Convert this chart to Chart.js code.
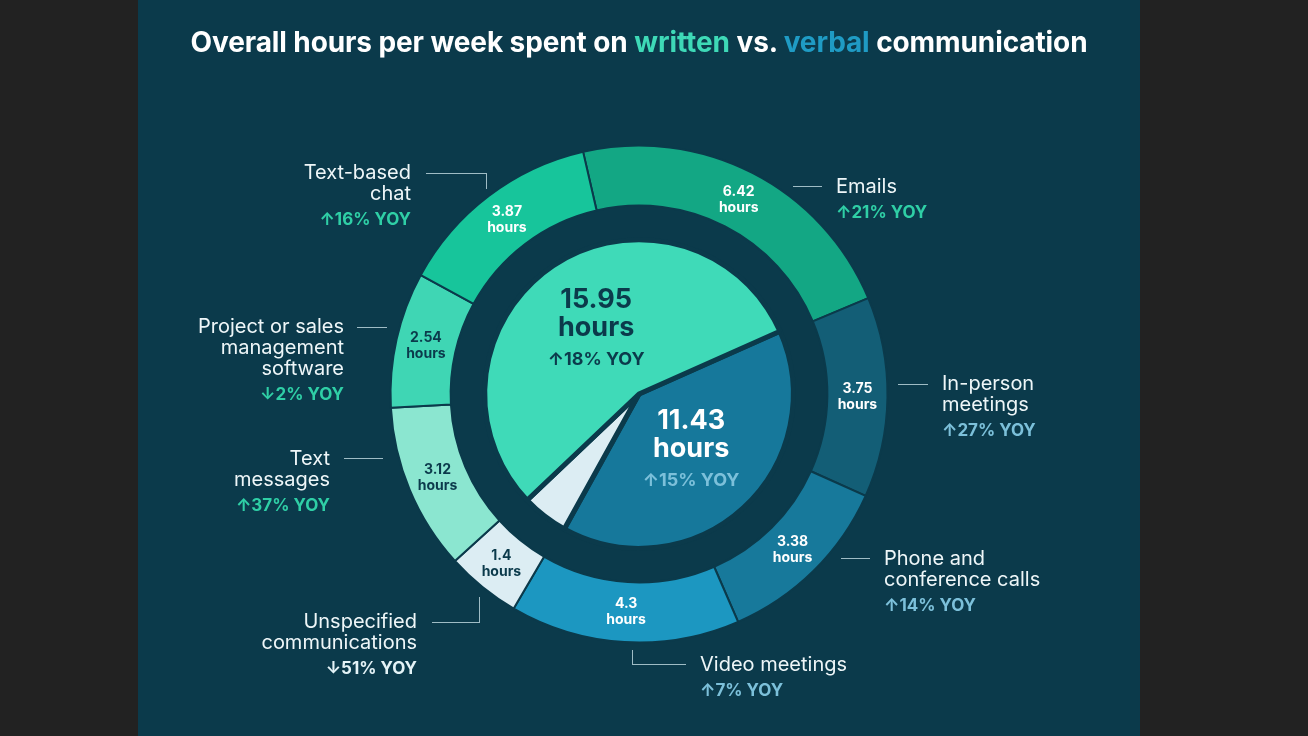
<!DOCTYPE html>
<html>
<head>
<meta charset="utf-8">
<script src="https://cdn.jsdelivr.net/npm/chart.js@4.4.1/dist/chart.umd.min.js"></script>
<style>
    html, body { margin: 0; padding: 0; }
    body {
        width: 1308px;
        height: 736px;
        background: #222222;
        position: relative;
        overflow: hidden;
        font-family: 'Inter', 'Noto Sans', sans-serif;
    }
    #panel {
        position: absolute;
        left: 138px;
        top: 0;
        width: 1002px;
        height: 736px;
        background: #0b3a4b;
    }
    #chart {
        position: absolute;
        left: 0;
        top: 0;
    }
    #title {
        position: absolute;
        left: 138px;
        top: 25px;
        width: 1002px;
        text-align: center;
        font: 700 28px/34px 'Inter', sans-serif;
        color: #ffffff;
        letter-spacing: -0.1px;
    }
    #title .written { color: #3ed9b7; }
    #title .verbal { color: #1f9bc4; }
    .callout {
        position: absolute;
        font: 400 20px/21px 'Inter', sans-serif;
        color: #eef6f8;
        white-space: nowrap;
    }
    .callout.right { text-align: right; }
    .callout .yoy {
        font: 700 17px/21px 'Inter', sans-serif;
        margin-top: 5px;
    }
    .leader {
        position: absolute;
        border: 0 solid #9fbcc5;
        box-sizing: border-box;
    }
</style>
</head>
<body>
<div id="panel"></div>
<canvas id="chart" width="1308" height="736"></canvas>
<div id="title">Overall hours per week spent on <span class="written">written</span> vs. <span class="verbal">verbal</span> communication</div>
<div id="callouts"></div>

<script>
// Outer ring: individual channels, clockwise from the top
const ringLabels = [
    'Emails',
    'In-person\nmeetings',
    'Phone and\nconference calls',
    'Video meetings',
    'Unspecified\ncommunications',
    'Text\nmessages',
    'Project or sales\nmanagement\nsoftware',
    'Text-based\nchat'
];
const ringHours = [6.42, 3.75, 3.38, 4.3, 1.4, 3.12, 2.54, 3.87];
const ringYoy = ['↑21% YOY', '↑27% YOY', '↑14% YOY', '↑7% YOY', '↓51% YOY', '↑37% YOY', '↓2% YOY', '↑16% YOY'];

// Inner pie: totals per communication type
const pieLabels = ['Verbal', 'Unspecified', 'Written'];
const pieHours = [11.43, 1.4, 15.95];
const pieYoy = ['↑15% YOY', '', '↑18% YOY'];

// Colours
const bg = '#0b3a4b';
const ringColors = ['#13a784', '#135e76', '#17799b', '#1c97c1', '#dcedf3', '#8be6d0', '#3fd6b4', '#17c59b'];
const ringTextColors = ['#ffffff', '#ffffff', '#ffffff', '#ffffff', '#0b3a4b', '#0b3a4b', '#0b3a4b', '#ffffff'];
const pieColors = ['#16789b', '#dcedf3', '#3fdab8'];
const yoyColors = ['#2fcfa6', '#7cc0da', '#7cc0da', '#7cc0da', '#e4f3f7', '#2fcfa6', '#2fcfa6', '#2fcfa6'];

// Callout placement (right edge for left-side labels, left edge for right-side ones)
const calloutPos = [
    { left: 836, top: 175.5 },
    { left: 942, top: 372.5 },
    { left: 884, top: 547.5 },
    { left: 700, top: 653.5 },
    { right: 417, top: 610.5 },
    { right: 330, top: 447.5 },
    { right: 344, top: 315.5 },
    { right: 411, top: 161.5 }
];

// Leader lines: [left, top, width, height, borders]
const leaders = [
    [793, 185.5, 29, 1, 'top'],
    [898, 383.5, 30, 1, 'top'],
    [841, 557.5, 29, 1, 'top'],
    [632, 650, 54, 14.5, 'left bottom'],
    [432, 597, 47.5, 25.5, 'right bottom'],
    [344, 457.5, 39, 1, 'top'],
    [357, 326.5, 30, 1, 'top'],
    [426, 172.5, 60.5, 16, 'top right']
];

function buildCallouts() {
    const box = document.getElementById('callouts');
    ringLabels.forEach((label, i) => {
        const div = document.createElement('div');
        const pos = calloutPos[i];
        div.className = 'callout' + (pos.right !== undefined ? ' right' : '');
        div.style.top = pos.top + 'px';
        if (pos.right !== undefined) {
            div.style.right = (1308 - pos.right) + 'px';
        } else {
            div.style.left = pos.left + 'px';
        }
        div.innerHTML = label.split('\n').map(l => `<div>${l}</div>`).join('') +
            `<div class="yoy" style="color:${yoyColors[i]}">${ringYoy[i]}</div>`;
        box.appendChild(div);
    });
    leaders.forEach(([l, t, w, h, sides]) => {
        const div = document.createElement('div');
        div.className = 'leader';
        div.style.left = l + 'px';
        div.style.top = t + 'px';
        div.style.width = w + 'px';
        div.style.height = h + 'px';
        sides.split(' ').forEach(s => {
            div.style['border' + s[0].toUpperCase() + s.slice(1) + 'Width'] = '1px';
        });
        box.appendChild(div);
    });
}

// Writes the hour values inside each arc
const arcLabels = {
    id: 'arcLabels',
    afterDatasetsDraw(chart) {
        const ctx = chart.ctx;
        ctx.save();
        ctx.textAlign = 'center';
        ctx.textBaseline = 'middle';

        chart.getDatasetMeta(0).data.forEach((arc, i) => {
            const { x, y } = arc.tooltipPosition();
            ctx.fillStyle = ringTextColors[i];
            ctx.font = "700 14px 'Inter', sans-serif";
            ctx.fillText(String(ringHours[i]), x, y - 8);
            ctx.fillText('hours', x, y + 8);
        });

        chart.getDatasetMeta(2).data.forEach((arc, i) => {
            if (!pieYoy[i]) return;
            const { x, y } = arc.tooltipPosition();
            const dark = i === 2;
            ctx.fillStyle = dark ? '#0b3a4b' : '#ffffff';
            ctx.font = "700 27px 'Inter', sans-serif";
            ctx.fillText(pieHours[i].toFixed(2), x, y - 30);
            ctx.fillText('hours', x, y - 2);
            ctx.font = "700 18px 'Inter', sans-serif";
            ctx.fillStyle = dark ? '#0b3a4b' : '#7cc0da';
            ctx.fillText(pieYoy[i], x, y + 30);
        });
        ctx.restore();
    }
};

const ctx = document.getElementById('chart').getContext('2d');
new Chart(ctx, {
    type: 'doughnut',
    data: {
        labels: ringLabels,
        datasets: [
            {
                label: 'Channels',
                data: ringHours,
                backgroundColor: ringColors,
                borderColor: bg,
                borderWidth: 2,
                rotation: -13,
                weight: 60
            },
            {
                label: 'spacer',
                data: [1],
                backgroundColor: 'transparent',
                borderWidth: 0,
                weight: 34
            },
            {
                label: 'Types',
                data: pieHours,
                backgroundColor: pieColors,
                borderColor: bg,
                borderWidth: 5,
                rotation: 66,
                weight: 154
            }
        ]
    },
    options: {
        responsive: false,
        animation: false,
        events: [],
        cutout: 0,
        layout: {
            padding: { left: 389.5, right: 419.5, top: 144.5, bottom: 92.5 }
        },
        plugins: {
            legend: { display: false },
            tooltip: { enabled: false }
        }
    },
    plugins: [arcLabels]
});

buildCallouts();
</script>
</body>
</html>
